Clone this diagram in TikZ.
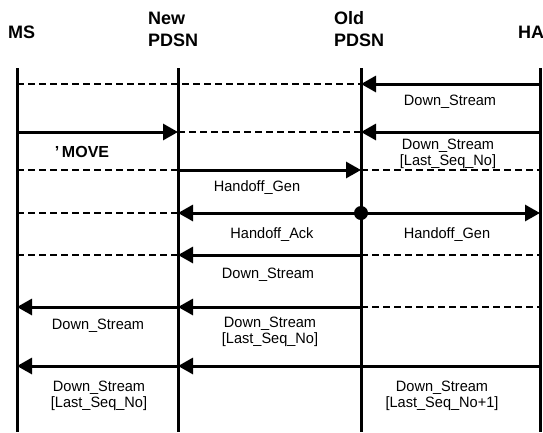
\documentclass[tikz,border=0pt]{standalone}
\usepackage{fontspec}
\setmainfont{Liberation Sans}
\newfontfamily\lblfont[FakeStretch=0.97]{Liberation Sans}
\newfontfamily\hdrfont{Liberation Sans}
\usetikzlibrary{arrows.meta}
\begin{document}
\begin{tikzpicture}[x=1pt,y=-1pt,
  life/.style={line width=3pt},
  msg/.style={line width=3pt,-{Triangle[length=15pt,width=16pt]}},
  plainmsg/.style={line width=3pt},
  dsh/.style={line width=1.6pt,dash pattern=on 7pt off 4pt},
  hdr/.style={font=\hdrfont\bfseries\fontsize{18}{22}\selectfont, align=left, inner sep=0pt, anchor=west},
  mv/.style={font=\bfseries\fontsize{16}{18}\selectfont, inner sep=0pt},
  lbl/.style={font=\lblfont\fontsize{15}{16}\selectfont, align=center, inner sep=0pt}]
\useasboundingbox (0,0) rectangle (543,432);
% lifeline coordinates
\foreach \l/\x in {ms/17,np/178,op/361,ha/540}{
  \coordinate (\l top) at (\x,68);
  \coordinate (\l bot) at (\x,432);
  \foreach \r/\y in {1/84,2/132,3/170,4/213,5/255,6/307,7/366}
    \coordinate (\l\r) at (\x,\y);
}
% headers
\node[hdr] (hms) at (8,32) {MS};
\node[hdr] (hnp) at (148,29) {New\\PDSN};
\node[hdr] (hop) at (334,29) {Old\\PDSN};
\node[hdr] (hha) at (518,32) {HA};
% lifelines
\draw[life] (mstop) -- (msbot);
\draw[life] (nptop) -- (npbot);
\draw[life] (optop) -- (opbot);
\draw[life] (hatop) -- (habot);
% row 1
\draw[dsh] (ms1) -- (op1);
\draw[msg] (ha1) -- (op1);
% row 2
\draw[msg] (ms2) -- (np2);
\draw[dsh] (np2) -- (op2);
\draw[msg] (ha2) -- (op2);
% row 3
\draw[dsh] (ms3) -- (np3);
\draw[msg] (np3) -- (op3);
\draw[dsh] (op3) -- (ha3);
% row 4
\draw[dsh] (ms4) -- (np4);
\draw[msg] (op4) -- (np4);
\draw[msg] (op4) -- (ha4);
\node[circle, fill, inner sep=0pt, minimum size=14pt] (dot) at (op4) {};
% row 5
\draw[dsh] (ms5) -- (np5);
\draw[msg] (op5) -- (np5);
\draw[dsh] (op5) -- (ha5);
% row 6
\draw[msg] (np6) -- (ms6);
\draw[msg] (op6) -- (np6);
\draw[dsh] (op6) -- (ha6);
% row 7
\draw[msg] (np7) -- (ms7);
\draw[msg] (op7) -- (np7);
\draw[plainmsg] (ha7) -- (op7);
% labels
\node[lbl] (l1) at (450,102) {Down\_Stream};
\node[mv] (move) at (82,152) {'\,MOVE};
\node[lbl] (l2) at (448,154) {Down\_Stream\\{}[Last\_Seq\_No]};
\node[lbl] (l3) at (257,188) {Handoff\_Gen};
\node[lbl] (l4) at (272,235) {Handoff\_Ack};
\node[lbl] (l5) at (447,235) {Handoff\_Gen};
\node[lbl] (l6) at (268,275) {Down\_Stream};
\node[lbl] (l7) at (98,326) {Down\_Stream};
\node[lbl] (l8) at (270,332) {Down\_Stream\\{}[Last\_Seq\_No]};
\node[lbl] (l9) at (99,396) {Down\_Stream\\{}[Last\_Seq\_No]};
\node[lbl] (l10) at (442,396) {Down\_Stream\\{}[Last\_Seq\_No+1]};
\end{tikzpicture}
\end{document}
